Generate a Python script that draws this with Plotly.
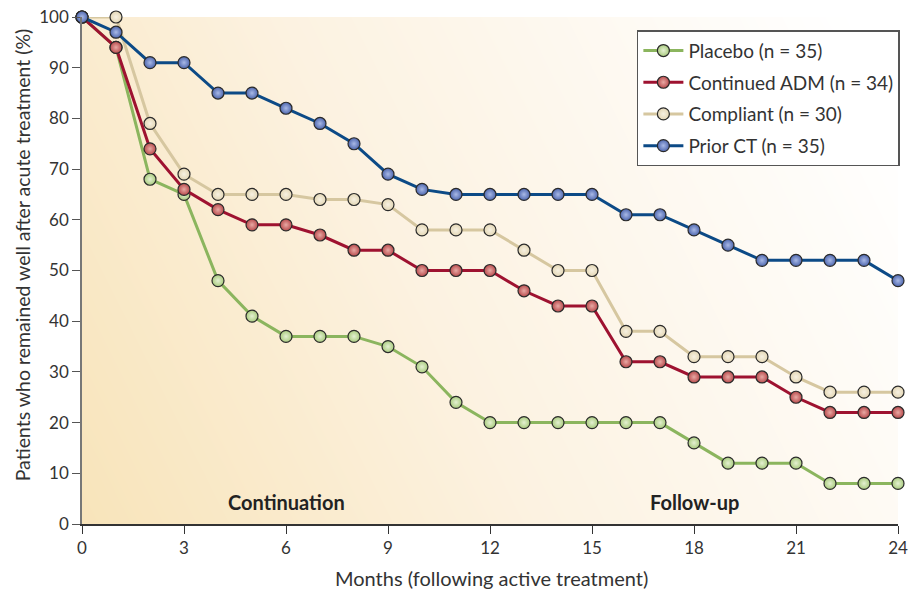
import numpy as np
import plotly.graph_objects as go

months = list(range(0, 25))
placebo = [100, 94, 68, 65, 48, 41, 37, 37, 37, 35, 31, 24, 20, 20, 20, 20, 20, 20, 16, 12, 12, 12, 8, 8, 8]
continued_adm = [100, 94, 74, 66, 62, 59, 59, 57, 54, 54, 50, 50, 50, 46, 43, 43, 32, 32, 29, 29, 29, 25, 22, 22, 22]
compliant = [100, 100, 79, 69, 65, 65, 65, 64, 64, 63, 58, 58, 58, 54, 50, 50, 38, 38, 33, 33, 33, 29, 26, 26, 26]
prior_ct = [100, 97, 91, 91, 85, 85, 82, 79, 75, 69, 66, 65, 65, 65, 65, 65, 61, 61, 58, 55, 52, 52, 52, 52, 48]

series_names = ["Placebo (n = 35)", "Continued ADM (n = 34)", "Compliant (n = 30)", "Prior CT (n = 35)"]
series_values = [placebo, continued_adm, compliant, prior_ct]
line_colors = ["#8BB55E", "#9E1230", "#D6C7A0", "#0C4A86"]
marker_colors = ["#A9CB7E", "#B84A4C", "#E3D6B4", "#4D66AE"]
highlight_colors = ["#E4F0D2", "#E8A9A4", "#F7F1E2", "#A9B9E6"]

x_ticks = [0, 3, 6, 9, 12, 15, 18, 21, 24]
y_ticks = [0, 10, 20, 30, 40, 50, 60, 70, 80, 90, 100]

fig = go.Figure()

# background gradient
gx = np.linspace(0, 24, 25)
gy = np.linspace(0, 100, 21)
GX, GY = np.meshgrid(gx, gy)
Z = np.clip(0.8 * GX / 24 + 0.25 * GY / 100, 0, 1)
fig.add_trace(go.Heatmap(
    x=gx, y=gy, z=Z, zsmooth="best", showscale=False, hoverinfo="skip",
    colorscale=[[0, "#F8E4BA"], [0.45, "#FCF2E1"], [1, "#FFFFFF"]], zmin=0, zmax=1,
    showlegend=False,
))

for i, (name, vals, lc, mc, hc) in enumerate(zip(series_names, series_values, line_colors, marker_colors, highlight_colors)):
    fig.add_trace(go.Scatter(
        x=months, y=vals, name=name, mode="lines+markers", legendgroup=f"g{i}",
        line=dict(color=lc, width=3),
        marker=dict(size=12, color=mc, line=dict(color="#2a2a2a", width=1.2),
                    gradient=dict(type="radial", color=hc)),
        cliponaxis=False,
    ))

fig.add_shape(type="line", x0=12, x1=12, y0=0, y1=100, xref="x", yref="y",
              line=dict(color="#666666", width=1.5, dash="dash"), layer="below")

fig.add_annotation(x=6, y=4.3, text="<b>Continuation</b>", showarrow=False,
                   font=dict(size=20, color="#222222", family="Lato"))
fig.add_annotation(x=18, y=4.3, text="<b>Follow-up</b>", showarrow=False,
                   font=dict(size=20, color="#222222", family="Lato"))

# axis titles
fig.add_annotation(x=0.502, y=-0.1065, xref="paper", yref="paper",
                   text="Months (following active treatment)", showarrow=False,
                   xanchor="center", yanchor="middle",
                   font=dict(size=20, color="#333333", family="Lato"))
fig.add_annotation(x=-0.0735, y=0.53, xref="paper", yref="paper",
                   text="Patients who remained well after acute treatment (%)", showarrow=False,
                   xanchor="center", yanchor="middle", textangle=-90,
                   font=dict(size=19.5, color="#333333", family="Lato"))

fig.update_layout(
    width=920, height=591,
    margin=dict(l=82, r=22, t=17, b=67),
    paper_bgcolor="white", plot_bgcolor="white",
    font=dict(family="Lato", size=16, color="#333333"),
    showlegend=True,
    legend=dict(x=0.68, y=0.974, xanchor="left", yanchor="top",
                bgcolor="white", bordercolor="#555555", borderwidth=1.5,
                font=dict(size=19, color="#333333"), tracegroupgap=4,
                itemwidth=40),
    xaxis=dict(range=[0, 24], tickvals=x_ticks, ticks="outside", ticklen=8,
               tickcolor="#333333", showline=True, linecolor="#333333", linewidth=1.5,
               showgrid=False, zeroline=False, automargin=False,
               ticklabeloverflow="allow", tickfont=dict(size=17)),
    yaxis=dict(range=[0, 100], tickvals=y_ticks, ticks="outside", ticklen=8,
               tickcolor="#555555", showline=True, linecolor="#777777", linewidth=1.5,
               showgrid=False, zeroline=False, automargin=False,
               ticklabeloverflow="allow", tickfont=dict(size=17)),
)

fig.write_html("out.html", config={"displayModeBar": False},
               post_script="document.body.style.margin='0px';")
